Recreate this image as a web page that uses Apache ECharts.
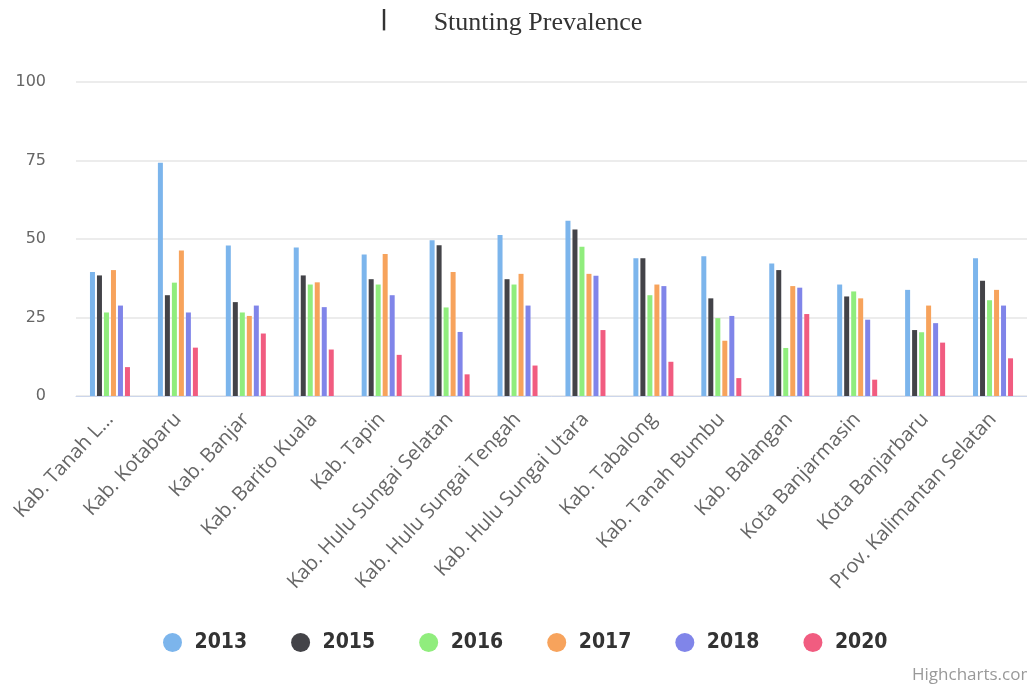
<!DOCTYPE html>
<html>
<head>
<meta charset="utf-8">
<script src="https://cdn.jsdelivr.net/npm/echarts@6/dist/echarts.min.js"></script>
<style>
  html, body { margin: 0; padding: 0; background: #fff; }
  #chart { width: 1027px; height: 689px; }
</style>
</head>
<body>
<div id="chart"></div>
<script>
const categories = [
  'Kab. Tanah L...', 'Kab. Kotabaru', 'Kab. Banjar', 'Kab. Barito Kuala', 'Kab. Tapin',
  'Kab. Hulu Sungai Selatan', 'Kab. Hulu Sungai Tengah', 'Kab. Hulu Sungai Utara',
  'Kab. Tabalong', 'Kab. Tanah Bumbu', 'Kab. Balangan', 'Kota Banjarmasin',
  'Kota Banjarbaru', 'Prov. Kalimantan Selatan'
]
const years = ['2013', '2015', '2016', '2017', '2018', '2020']
const v2013 = [39.5, 74.3, 47.9, 47.3, 45.1, 49.6, 51.3, 55.8, 43.9, 44.5, 42.2, 35.5, 33.8, 43.9]
const v2015 = [38.4, 32.1, 29.9, 38.4, 37.2, 48.0, 37.2, 53.0, 43.9, 31.1, 40.1, 31.7, 21.0, 36.7]
const v2016 = [26.6, 36.1, 26.6, 35.5, 35.5, 28.2, 35.5, 47.5, 32.1, 24.8, 15.3, 33.3, 20.3, 30.5]
const v2017 = [40.1, 46.3, 25.5, 36.2, 45.2, 39.5, 38.9, 38.9, 35.5, 17.6, 35.0, 31.1, 28.8, 33.8]
const v2018 = [28.8, 26.6, 28.8, 28.3, 32.1, 20.4, 28.8, 38.3, 35.0, 25.5, 34.5, 24.3, 23.2, 28.8]
const v2020 = [9.2, 15.4, 19.9, 14.8, 13.1, 6.9, 9.7, 21.0, 10.9, 5.7, 26.1, 5.2, 17.0, 12.0]
const yTicks = [0, 25, 50, 75, 100]

const values = [v2013, v2015, v2016, v2017, v2018, v2020]
const colors = ['#7cb5ec', '#434348', '#90ed7d', '#f7a35c', '#8085e9', '#f15c80']

const chart = echarts.init(document.getElementById('chart'))
chart.setOption({
  backgroundColor: '#fff',
  animation: false,
  color: colors,
  title: {
    text: 'Stunting Prevalence',
    left: 533,
    textAlign: 'center',
    top: 5,
    textStyle: {
      fontFamily: 'Liberation Serif',
      fontSize: 26,
      fontWeight: 'normal',
      color: '#333',
    },
  },
  graphic: [
    {
      type: 'text',
      left: 380,
      top: 8,
      style: { text: '|', fontFamily: 'DejaVu Sans', fontSize: 22, fontWeight: 'bold', fill: '#333' },
    },
    {
      type: 'text',
      left: 912,
      top: 667,
      style: { text: 'Highcharts.com', fontFamily: 'Open Sans', fontSize: 17, fill: '#999' },
    },
  ],
  legend: {
    data: years,
    top: 627,
    left: 158,
    icon: 'circle',
    itemWidth: 34,
    itemHeight: 19,
    itemGap: 44,
    textStyle: {
      fontFamily: 'DejaVu Sans Condensed',
      fontWeight: 'bold',
      fontSize: 21,
      color: '#333',
    },
  },
  grid: {
    left: 76,
    top: 82,
    width: 959,
    height: 314,
    containLabel: false,
  },
  xAxis: {
    type: 'category',
    data: categories,
    axisLine: { lineStyle: { color: '#ccd6eb' } },
    axisTick: { show: false },
    axisLabel: {
      rotate: 47,
      interval: 0,
      margin: 20,
      fontFamily: 'Open Sans',
      fontSize: 20,
      color: '#666',
    },
  },
  yAxis: {
    type: 'value',
    min: yTicks[0],
    max: yTicks[yTicks.length - 1],
    interval: 25,
    axisLine: { show: false },
    axisTick: { show: false },
    splitLine: { lineStyle: { color: '#e6e6e6', width: 1.5 } },
    axisLabel: {
      margin: 30,
      fontFamily: 'DejaVu Sans',
      fontSize: 16,
      color: '#666',
    },
  },
  series: years.map((y, i) => ({
    name: y,
    type: 'bar',
    data: values[i],
    barWidth: 5,
    barGap: '40%',
    itemStyle: { color: colors[i] },
  })),
})
</script>
</body>
</html>
